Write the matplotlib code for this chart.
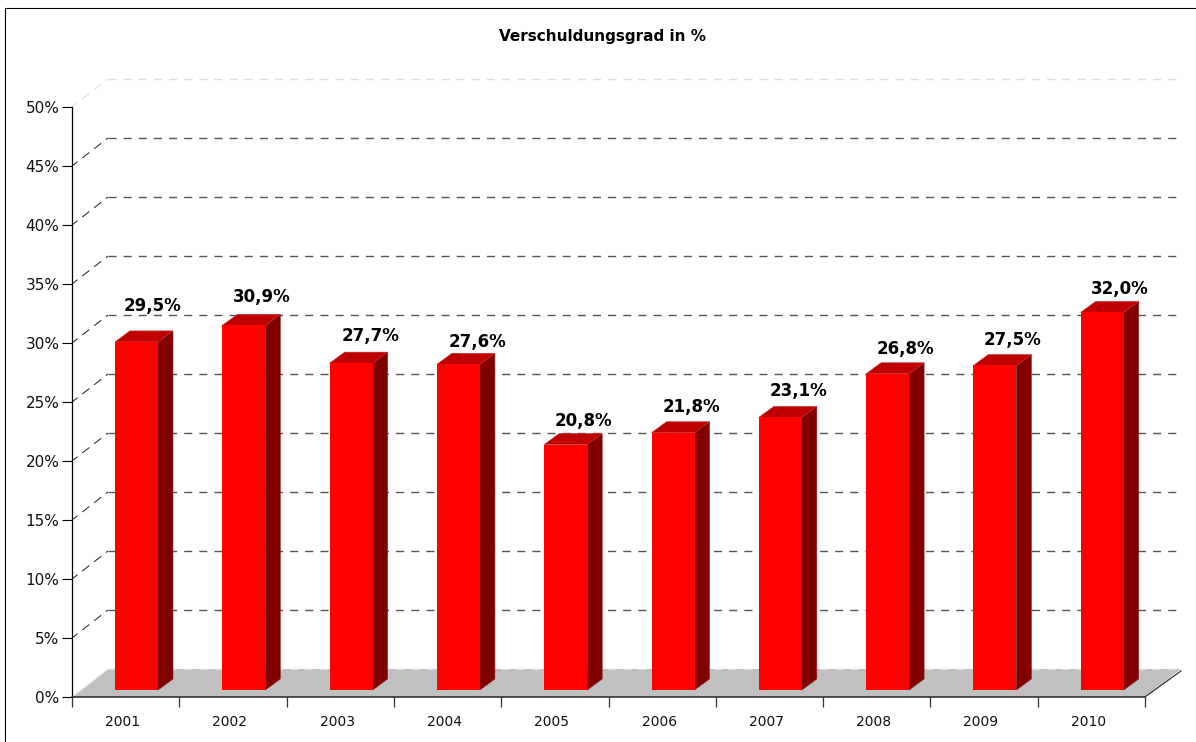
import matplotlib
matplotlib.use('Agg')
from matplotlib import pyplot as plt
from matplotlib.lines import Line2D
from matplotlib.patches import Polygon

years = ['2001', '2002', '2003', '2004', '2005', '2006', '2007', '2008', '2009', '2010']
values = [29.5, 30.9, 27.7, 27.6, 20.8, 21.8, 23.1, 26.8, 27.5, 32.0]
value_labels = ['29,5%', '30,9%', '27,7%', '27,6%', '20,8%', '21,8%', '23,1%', '26,8%', '27,5%', '32,0%']
y_ticks = [0, 5, 10, 15, 20, 25, 30, 35, 40, 45, 50]
title = 'Verschuldungsgrad in %'

# label height above the top of each bar and sideways shift, in pixels
label_lift = [25, 17, 16, 11, 13, 15, 15, 14, 14, 12]
label_shift = [16, 18, 19, 19, 18, 18, 18, 18, 18, 18]

W, H = 1196, 742
left, right, top, bottom = 72, 1145, 107, 697
px_x = (right - left) / 10.0
px_y = (bottom - top) / 50.0

# depth of the back wall and of the bars, in pixels
wall_dx, wall_dy = 36, 28
bar_dx, bar_dy = 15, 11
base_dy = 7
bar_start = 43
bar_w = 43

fig = plt.figure(figsize=(W / 100, H / 100), dpi=100)
ax = fig.add_axes([left / W, 1 - bottom / H, (right - left) / W, (bottom - top) / H])
ax.set_xlim(0, 10)
ax.set_ylim(0, 50)
ax.patch.set_visible(False)
for s in ['top', 'right']:
    ax.spines[s].set_visible(False)
ax.spines['left'].set_linewidth(0.9)
ax.spines['bottom'].set_linewidth(1.2)
ax.spines['bottom'].set_color('#333333')

wx = wall_dx / px_x
wy = wall_dy / px_y
dash = (0, (5.8, 5.1))

# floor
ax.add_patch(Polygon([(0, 0), (wx, wy), (10 + wx, wy), (10, 0)], closed=True,
                     facecolor='#c0c0c0', edgecolor='none', clip_on=False, zorder=1))
ax.add_line(Line2D([10, 10 + wx], [0, wy * 0.93], color='#222222', lw=0.8, clip_on=False, zorder=2))
ax.add_line(Line2D([0, wx], [0, wy], color='#eeeeee', lw=0.8, clip_on=False, zorder=2))

# grid on the wall
for v in y_ticks:
    if v == 0:
        continue
    c_back = '#dddddd' if v == 50 else '#555555'
    c_side = '#dddddd' if v == 50 else '#222222'
    ax.add_line(Line2D([wx, 10 + wx - 5 / px_x], [v + wy, v + wy], color=c_back, lw=1.0,
                       linestyle=dash, clip_on=False, zorder=1))
    ax.add_line(Line2D([0, wx], [v, v + wy], color=c_side, lw=0.72,
                       linestyle=(2, (9, 6)), clip_on=False, zorder=1))
ax.add_line(Line2D([wx, 10 + wx - 5 / px_x], [wy, wy], color='#dddddd', lw=1.0,
                   linestyle=dash, clip_on=False, zorder=1))

# bars
for i in range(len(values)):
    x0 = i + bar_start / px_x
    x1 = x0 + bar_w / px_x
    y0 = base_dy / px_y
    y1 = y0 + values[i]
    dx = bar_dx / px_x
    dy = bar_dy / px_y
    ax.add_patch(Polygon([(x1, y0), (x1 + dx, y0 + dy), (x1 + dx, y1 + dy), (x1, y1)], closed=True,
                         facecolor='#800000', edgecolor='#8c2020', lw=0.4, clip_on=False, zorder=3))
    ax.add_patch(Polygon([(x0, y1), (x0 + dx, y1 + dy), (x1 + dx, y1 + dy), (x1, y1)], closed=True,
                         facecolor='#bf0000', edgecolor='#c83030', lw=0.4, clip_on=False, zorder=3))
    ax.add_patch(Polygon([(x0, y0), (x0, y1), (x1, y1), (x1, y0)], closed=True,
                         facecolor='#ff0000', edgecolor='none', clip_on=False, zorder=4))
    ax.text((x0 + x1) / 2 + label_shift[i] / px_x, y1 + dy + label_lift[i] / px_y, value_labels[i],
            ha='center', va='center', fontsize=12, fontweight='bold', color='black', zorder=5)
    ax.text(i + 0.5 - 3 / px_x, -25 / px_y, years[i], ha='center', va='center', fontsize=10, color='#111111')

ax.set_yticks(y_ticks)
ax.set_yticklabels(['%d%%' % v for v in y_ticks], fontsize=11, color='#111111')
ax.set_xticks(range(11))
ax.set_xticklabels([])
ax.tick_params(axis='y', length=7, width=0.8, pad=2)
ax.tick_params(axis='x', length=7, width=0.9, color='#333333')

fig.text(602.5 / W, 1 - 37 / H, title, ha='center', va='center', fontsize=11, fontweight='bold')

# outer frame, open to the right and the bottom
fig.add_artist(Line2D([4.6 / W, 4.6 / W, 1], [0, 1 - 7.6 / H, 1 - 7.6 / H], color='black', lw=0.8))

fig.savefig('out.png', dpi=100)
